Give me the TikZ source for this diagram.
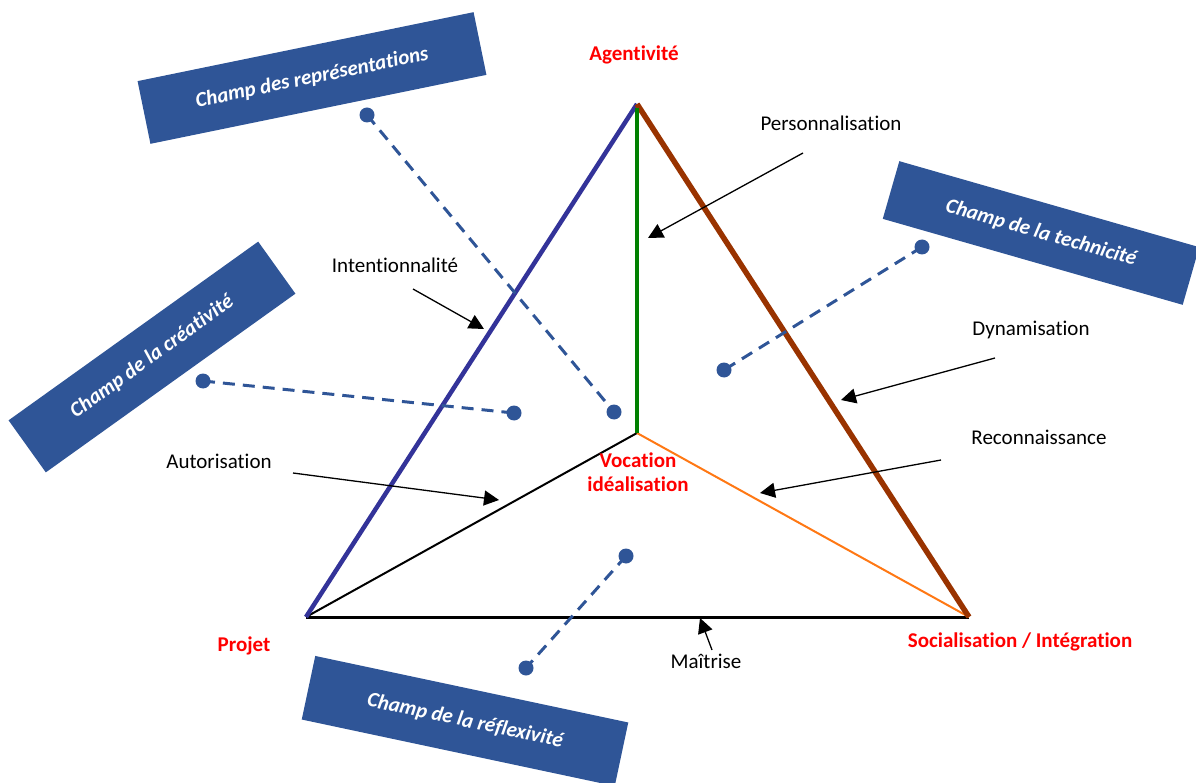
\documentclass[tikz,border=0pt]{standalone}
\usepackage{fontspec}
\setmainfont{Carlito}[Ligatures={NoCommon,NoRare,NoContextual}]
\usetikzlibrary{arrows.meta}
\definecolor{boxblue}{RGB}{47,85,151}
\definecolor{edgeblue}{RGB}{51,51,153}
\definecolor{edgebrown}{RGB}{153,51,0}
\definecolor{edgegreen}{RGB}{0,128,0}
\definecolor{edgeorange}{RGB}{255,120,20}
\definecolor{labred}{RGB}{255,0,0}
\tikzset{
  champ/.style={fill=boxblue, text=white, font=\fontsize{21}{24}\selectfont\bfseries\itshape, minimum height=64pt, inner sep=0pt},
  dot/.style={circle, fill=boxblue, minimum size=15pt, inner sep=0pt},
  dashline/.style={draw=boxblue, line width=3pt, dash pattern=on 12pt off 8pt},
  lab/.style={font=\fontsize{21}{25}\selectfont, text=black},
  redlab/.style={font=\fontsize{21}{24}\selectfont\bfseries, text=labred, align=center},
  ptr/.style={draw=black, line width=1.3pt, -{Triangle[length=15pt,width=15pt]}}
}
\begin{document}
\begin{tikzpicture}[x=1pt,y=-1pt]
\useasboundingbox (0,0) rectangle (1196,783);
% boxes
\node[champ, minimum width=343pt, rotate=11.6] (boxRep) at (312,78) {Champ des représentations};
\node[champ, minimum width=307pt, rotate=35.6] (boxCrea) at (152,357) {Champ de la créativité};
\node[champ, minimum width=312pt, minimum height=60pt, rotate=-16] (boxTech) at (1041,233) {Champ de la technicité};
\node[champ, minimum width=320pt, minimum height=65pt, rotate=-12] (boxRefl) at (465,721) {Champ de la réflexivité};
% triangle vertices
\coordinate (A) at (637,104);
\coordinate (Ag) at (637,108);
\coordinate (P) at (306,617);
\coordinate (S) at (969,617);
\coordinate (V) at (637,433);
% triangle
\draw[black, line width=3pt] (P) -- (S);
\draw[black, line width=2pt] (V) -- (P);
\draw[edgeorange, line width=2pt] (V) -- (S);
\draw[edgeblue, line width=4.5pt] (P) -- (A);
\draw[edgebrown, line width=5.5pt] (A) -- (S);
\draw[edgegreen, line width=4.5pt] (Ag) -- (V);
% dotted connectors
\node[dot] (r1) at (367,115) {};
\node[dot] (r2) at (614,412) {};
\node[dot] (c1) at (203,381) {};
\node[dot] (c2) at (514,413) {};
\node[dot] (t1) at (922,247) {};
\node[dot] (t2) at (724,370) {};
\node[dot] (f1) at (626,556) {};
\node[dot] (f2) at (526,668) {};
\draw[dashline] (r1.center) -- (r2.center);
\draw[dashline] (c1.center) -- (c2.center);
\draw[dashline] (t1.center) -- (t2.center);
\draw[dashline] (f1.center) -- (f2.center);
% red labels
\node[redlab] (agent) at (634,55) {Agentivité};
\node[redlab] (voc) at (638,472) {Vocation\\idéalisation};
\node[redlab] (proj) at (244,646) {Projet};
\node[redlab] (soc) at (1020,642) {Socialisation / Intégration};
% black labels
\node[lab] (pers) at (831,123) {Personnalisation};
\node[lab] (inten) at (395,265) {Intentionnalité};
\node[lab] (dyna) at (1031,330) {Dynamisation};
\node[lab] (reco) at (1039,437) {Reconnaissance};
\node[lab] (auto) at (219,461) {Autorisation};
\node[lab] (mait) at (706,661) {Maîtrise};
% pointer coordinates
\coordinate (persS) at (803,153); \coordinate (persT) at (648,238);
\coordinate (intS) at (413,289); \coordinate (intT) at (484,329);
\coordinate (dynS) at (995,358); \coordinate (dynT) at (841,400);
\coordinate (recS) at (941,460); \coordinate (recT) at (760,493);
\coordinate (autS) at (293,473); \coordinate (autT) at (499,500);
\coordinate (maiS) at (712,650); \coordinate (maiT) at (700,618);
\draw[ptr] (persS) -- (persT);
\draw[ptr] (intS) -- (intT);
\draw[ptr] (dynS) -- (dynT);
\draw[ptr] (recS) -- (recT);
\draw[ptr] (autS) -- (autT);
\draw[ptr] (maiS) -- (maiT);
\end{tikzpicture}
\end{document}
